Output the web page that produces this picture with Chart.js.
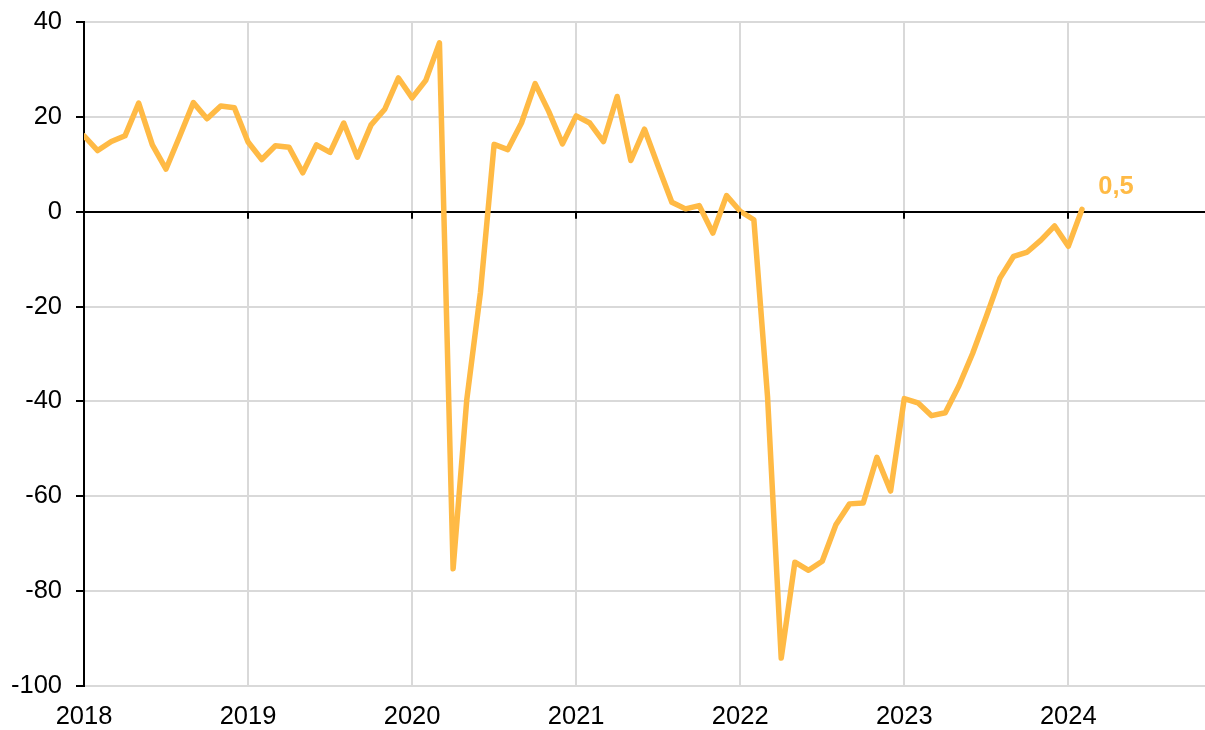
<!DOCTYPE html>
<html>
<head>
<meta charset="utf-8">
<script src="https://cdn.jsdelivr.net/npm/chart.js@4.4.1/dist/chart.umd.min.js"></script>
<style>
  html, body { margin: 0; padding: 0; background: #fff; }
  #wrap { width: 1205px; height: 730px; }
</style>
</head>
<body>
<div id="wrap"><canvas id="chart" width="1205" height="730"></canvas></div>
<script>
// monthly values, first point = Jan 2018
const startYear = 2018;
const values = [
  16.0, 12.9, 14.8, 16.0, 22.9, 14.1, 9.0, 15.9, 23.0, 19.6, 22.3, 21.9,
  14.7, 11.0, 13.9, 13.6, 8.2, 14.1, 12.5, 18.7, 11.5, 18.3, 21.6, 28.2,
  24.0, 27.7, 35.6, -75.3, -39.6, -17.0, 14.2, 13.1, 18.7, 27.0, 21.1, 14.3,
  20.2, 18.7, 14.8, 24.3, 10.8, 17.4, 9.6, 2.0, 0.6, 1.3, -4.5, 3.4,
  0.1, -1.7, -39.0, -94.1, -73.9, -75.6, -73.7, -66.0, -61.6, -61.4, -51.8, -58.9,
  -39.4, -40.3, -43.0, -42.4, -36.7, -29.9, -22.1, -14.0, -9.4, -8.5, -6.0, -3.0,
  -7.3, 0.5
];
const yearTicks = [2018, 2019, 2020, 2021, 2022, 2023, 2024];
const lastLabel = '0,5';
const xMaxMonths = 82;

const lineColor = '#FFBA45';
const gridColor = '#D9D9D9';
const font = { family: '"Liberation Sans", Arial, sans-serif', size: 25.5 };

const points = values.map(function (v, i) { return { x: i, y: v }; });

// black tick marks on the zero line at each year
const zeroTicks = {
  id: 'zeroTicks',
  afterDatasetsDraw: function (chart) {
    const ctx = chart.ctx;
    const xs = chart.scales.x;
    const zeroY = chart.scales.y.getPixelForValue(0);
    ctx.save();
    ctx.strokeStyle = '#000';
    ctx.lineWidth = 2;
    yearTicks.forEach(function (yr) {
      const x = Math.round(xs.getPixelForValue((yr - startYear) * 12));
      ctx.beginPath();
      ctx.moveTo(x, zeroY);
      ctx.lineTo(x, zeroY + 7);
      ctx.stroke();
    });
    ctx.restore();
  }
};

// value label next to last point
const lastValueLabel = {
  id: 'lastValueLabel',
  afterDatasetsDraw: function (chart) {
    const meta = chart.getDatasetMeta(0);
    const p = meta.data[meta.data.length - 1];
    if (!p) return;
    const ctx = chart.ctx;
    ctx.save();
    ctx.fillStyle = lineColor;
    ctx.font = 'bold 25.5px "Liberation Sans", Arial, sans-serif';
    ctx.textAlign = 'center';
    ctx.textBaseline = 'middle';
    ctx.fillText(lastLabel, p.x + 34, p.y - 22);
    ctx.restore();
  }
};

new Chart(document.getElementById('chart'), {
  type: 'line',
  data: {
    datasets: [{
      data: points,
      borderColor: lineColor,
      borderWidth: 5.5,
      pointRadius: 0,
      tension: 0,
      fill: false,
      borderJoinStyle: 'round',
      borderCapStyle: 'round'
    }]
  },
  options: {
    responsive: false,
    animation: false,
    layout: { padding: { top: 22, right: 0, left: 0, bottom: 0 } },
    plugins: { legend: { display: false }, tooltip: { enabled: false } },
    scales: {
      x: {
        type: 'linear',
        min: 0,
        max: xMaxMonths,
        afterBuildTicks: function (axis) {
          axis.ticks = yearTicks.map(function (yr) { return { value: (yr - startYear) * 12 }; });
        },
        afterFit: function (s) { s.height = 44; s.paddingLeft = 0; s.paddingRight = 0; },
        border: { display: false },
        grid: { color: gridColor, lineWidth: 2, drawTicks: false },
        ticks: {
          color: '#000',
          font: font,
          padding: 16,
          maxRotation: 0,
          callback: function (v) { return String(startYear + v / 12); }
        }
      },
      y: {
        min: -100,
        max: 40,
        afterFit: function (s) { s.width = 84; s.paddingTop = 0; s.paddingBottom = 0; },
        border: { color: '#000', width: 2 },
        grid: {
          color: function (c) { return c.tick && c.tick.value === 0 ? '#000' : gridColor; },
          lineWidth: 2,
          tickColor: '#000',
          tickLength: 8
        },
        ticks: {
          stepSize: 20,
          color: '#000',
          font: font,
          padding: 14,
          callback: function (v) { return String(v); }
        }
      }
    }
  },
  plugins: [zeroTicks, lastValueLabel]
});
</script>
</body>
</html>
